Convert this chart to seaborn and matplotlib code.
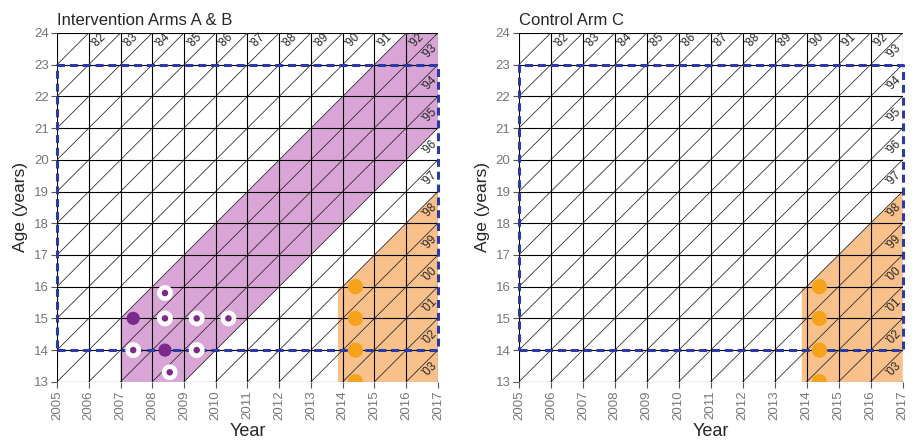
import matplotlib
matplotlib.use("Agg")
import matplotlib.pyplot as plt
import seaborn as sns
import pandas as pd
import numpy as np

# ---- data ----
years = list(range(2005, 2018))
ages = list(range(13, 25))
birth_lines = list(range(1981, 2005))          # cohort boundary lines
top_cohorts = list(range(1982, 1993))          # labels on the top edge
right_cohorts = list(range(1993, 2004))        # labels on the right edge

# intervention band (purple) vertices (year, age)
purple_x = [2007, 2009, 2017, 2017, 2016, 2007]
purple_y = [13, 13, 21, 24, 24, 15]
# survey region (orange)
orange_x = [2013.85, 2017, 2017, 2014, 2013.85]
orange_y = [13, 13, 19, 16, 16]

# study window (blue dashed)
win_x = [2005, 2017, 2017, 2005, 2005]
win_y = [14, 14, 23, 23, 14]

# purple survey points
pf_year = [2007.4, 2008.4]
pf_age = [15.0, 14.0]
pr_year = [2007.4, 2008.4, 2008.4, 2009.4, 2010.4, 2009.4, 2008.55]
pr_age = [14.0, 15.8, 15.0, 15.0, 15.0, 14.0, 13.3]
# orange survey points
or_year = [2014.4, 2014.4, 2014.4, 2014.4]
or_age = [16.0, 15.0, 14.0, 13.0]

titles = ["Intervention Arms A & B", "Control Arm C"]

sns.set_theme(style="white")
plt.rcParams['font.family'] = ['Liberation Sans', 'DejaVu Sans']

fig = plt.figure(figsize=(9.2, 4.45), dpi=100)
axes = [fig.add_axes([0.062, 0.142, 0.414, 0.784]),
        fig.add_axes([0.564, 0.142, 0.417, 0.784])]

PURPLE_FILL = "#d9a5d6"
ORANGE_FILL = "#f8c08b"
PURPLE = "#7a2a8a"
ORANGE = "#f5a31c"
BLUE = "#2b3aa6"

for i, ax in enumerate(axes):
    ax.set_xlim(2005, 2017)
    ax.set_ylim(13, 24)
    if i == 0:
        ax.fill(purple_x, purple_y, color=PURPLE_FILL, lw=0, zorder=1)
    ax.fill(orange_x, orange_y, color=ORANGE_FILL, lw=0, zorder=1)
    # grid
    for x in years:
        ax.plot([x, x], [13, 24], color="black", lw=0.8, zorder=2)
    for y in ages:
        ax.plot([2005, 2017], [y, y], color="black", lw=0.8, zorder=2)
    for b in birth_lines:
        xs = np.array([2005, 2017])
        ax.plot(xs, xs - b, color="#222222", lw=0.55, zorder=2)
    # cohort labels
    for c in top_cohorts:
        ax.text(c + 24.32, 23.76, "\u2019" + str(c)[2:], rotation=45, fontsize=8.3,
                ha="center", va="center", zorder=4)
    for c in right_cohorts:
        ax.text(2016.73, 2016.4 - c, "\u2019" + str(c)[2:], rotation=45, fontsize=8.3,
                ha="center", va="center", zorder=4)
    # blue dashed window
    ax.plot(win_x, win_y, color=BLUE, lw=2.2, ls=(0, (2.6, 1.6)), zorder=5,
            clip_on=False)
    # points
    dfo = pd.DataFrame({"year": or_year, "age": or_age})
    sns.scatterplot(data=dfo, x="year", y="age", ax=ax, color=ORANGE, s=120,
                    edgecolor="none", zorder=6, legend=False)
    if i == 0:
        dfr = pd.DataFrame({"year": pr_year, "age": pr_age})
        sns.scatterplot(data=dfr, x="year", y="age", ax=ax, color="white", s=130,
                        edgecolor="none", zorder=6, legend=False)
        sns.scatterplot(data=dfr, x="year", y="age", ax=ax, color=PURPLE, s=22,
                        edgecolor="none", zorder=7, legend=False)
        dff = pd.DataFrame({"year": pf_year, "age": pf_age})
        sns.scatterplot(data=dff, x="year", y="age", ax=ax, color=PURPLE, s=90,
                        edgecolor="none", zorder=8, legend=False)

    ax.set_xticks(years)
    ax.set_xticklabels([str(y) for y in years], rotation=90)
    ax.set_yticks(ages)
    ax.tick_params(axis="both", which="both", length=4, width=0.8, color="#555555",
                   labelcolor="#777777", labelsize=9.5, bottom=True, left=True, pad=2)
    for s in ax.spines.values():
        s.set_visible(False)
    ax.set_xlabel("Year", fontsize=13, labelpad=2)
    ax.set_ylabel("Age (years)", fontsize=12.5, labelpad=4)
    ax.set_title(titles[i], loc="left", fontsize=12, pad=6)

fig.savefig("out.png", dpi=100)
